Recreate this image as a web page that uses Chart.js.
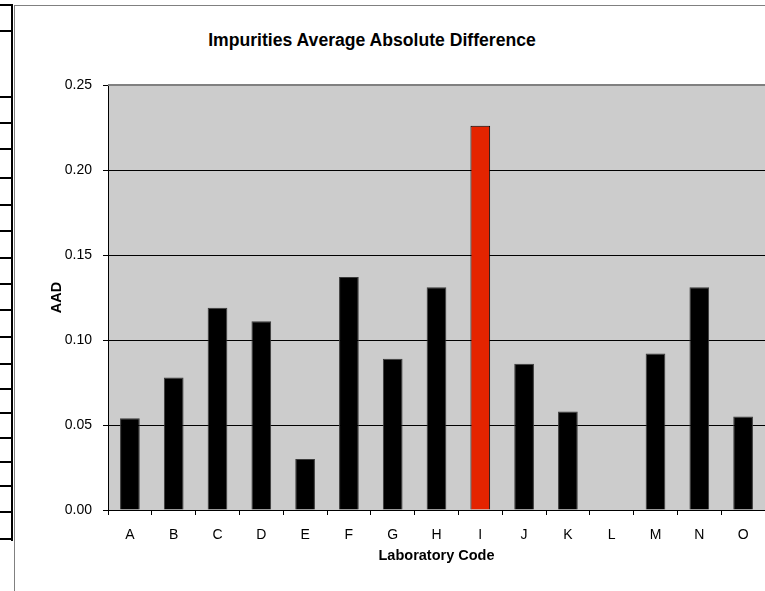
<!DOCTYPE html>
<html>
<head>
<meta charset="utf-8">
<script src="https://cdn.jsdelivr.net/npm/chart.js@4.4.1/dist/chart.umd.min.js"></script>
<style>
  html, body { margin: 0; padding: 0; background: #fff; overflow: hidden; }
  body { width: 765px; height: 591px; position: relative; font-family: "Liberation Sans", Arial, sans-serif; }
  #frame { position: absolute; left: 14px; top: 5px; width: 760px; height: 600px;
           border-left: 1px solid #808080; border-top: 1px solid #808080; }
  #sheet-v { position: absolute; left: 11px; top: 4px; width: 2px; height: 537px; background: #000; }
  .sheet-h { position: absolute; left: 0; width: 12px; height: 2px; background: #000; }
  #title { position: absolute; left: 0; top: 30px; width: 744px; text-align: center;
           font-weight: bold; font-size: 17.6px; color: #000; }
  #wrap { position: absolute; left: 15px; top: 6px; width: 750px; height: 585px; }
</style>
</head>
<body>
<div id="frame"></div>
<div id="sheet-v"></div>
<div id="title">Impurities Average Absolute Difference</div>
<div id="wrap"><canvas id="chart"></canvas></div>
<script>
// lab codes and their AAD values (L reported nothing)
var labs = ["A", "B", "C", "D", "E", "F", "G", "H", "I", "J", "K", "L", "M", "N", "O"];
var aad = [0.054, 0.078, 0.119, 0.111, 0.030, 0.137, 0.089, 0.131, 0.226, 0.086, 0.058, null, 0.092, 0.131, 0.055];
var highlightLab = "I";
var yTicks = [0.00, 0.05, 0.10, 0.15, 0.20, 0.25];

// spreadsheet row lines peeking out on the left
var rowLines = [4, 30, 96, 122, 148, 177, 204, 230, 257, 283, 309, 336, 363, 388, 412, 437, 461, 485, 511, 538];
rowLines.forEach(y => {
    var d = document.createElement("div");
    d.className = "sheet-h";
    d.style.top = y + "px";
    document.body.appendChild(d);
});

var plotBg = {
    id: "plotBg",
    beforeDraw(chart) {
        var a = chart.chartArea, ctx = chart.ctx;
        ctx.save();
        ctx.fillStyle = "#cccccc";
        ctx.fillRect(a.left, a.top, a.right - a.left, a.bottom - a.top);
        ctx.restore();
    },
    afterDraw(chart) {
        var a = chart.chartArea, ctx = chart.ctx;
        ctx.save();
        ctx.strokeStyle = "#808080";
        ctx.lineWidth = 2;
        ctx.beginPath();
        ctx.moveTo(a.left, a.top);
        ctx.lineTo(a.right, a.top);
        ctx.stroke();
        ctx.restore();
    }
};

Chart.defaults.font.family = '"Liberation Sans", Arial, sans-serif';
Chart.defaults.color = "#000";

new Chart(document.getElementById("chart"), {
    type: "bar",
    data: {
        labels: labs,
        datasets: [{
            data: aad,
            backgroundColor: labs.map(l => l === highlightLab ? "#e42400" : "#000000"),
            borderColor: labs.map(l => l === highlightLab ? "#000000" : "#3a3a3a"),
            borderWidth: 1,
            categoryPercentage: 1,
            barPercentage: 0.45
        }]
    },
    options: {
        responsive: true,
        maintainAspectRatio: false,
        animation: false,
        layout: { padding: { top: 79, bottom: 11, left: 0, right: 0 } },
        plugins: {
            legend: { display: false },
            tooltip: { enabled: false }
        },
        scales: {
            x: {
                offset: true,
                grid: { offset: true, drawOnChartArea: false, tickLength: 5, color: "#000" },
                border: { display: true, color: "#000", width: 1 },
                ticks: { padding: 12, font: { size: 14 } },
                title: { display: true, text: "Laboratory Code", font: { size: 14.5, weight: "bold" }, padding: { top: 0, bottom: 15 } },
                afterFit(scale) { scale.height = 70; }
            },
            y: {
                min: 0,
                max: 0.25,
                afterBuildTicks(scale) { scale.ticks = yTicks.map(v => ({ value: v })); },
                grid: {
                    color: ctx => ctx.tick && ctx.tick.value === 0.25 ? "#808080" : "#000",
                    tickColor: "#000",
                    tickLength: 5,
                    lineWidth: 1
                },
                border: { display: true, color: "#000", width: 1 },
                ticks: { padding: 11, font: { size: 14 }, callback: v => Number(v).toFixed(2) },
                title: { display: true, text: "AAD", font: { size: 14.5, weight: "bold" }, padding: { top: 33, bottom: 0 } },
                afterFit(scale) { scale.width = 93; }
            }
        }
    },
    plugins: [plotBg]
});
</script>
</body>
</html>
